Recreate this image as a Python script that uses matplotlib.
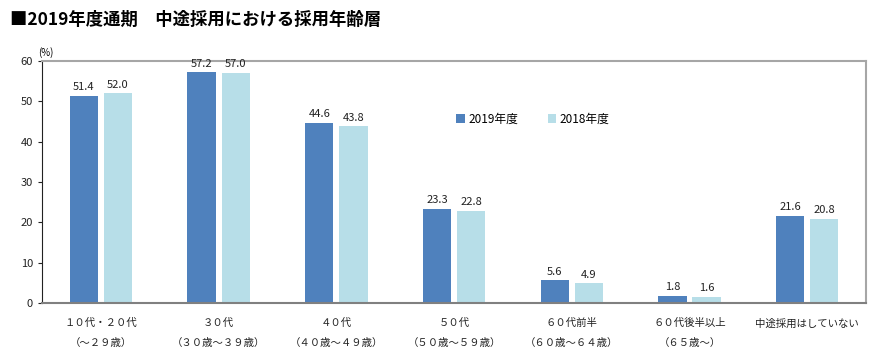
import numpy as np
import matplotlib
matplotlib.use("Agg")
import matplotlib.pyplot as plt

plt.rcParams['font.family'] = ['Noto Sans CJK JP', 'DejaVu Sans']

# Data
categories = ["１０代・２０代\n（～２９歳）", "３０代\n（３０歳～３９歳）", "４０代\n（４０歳～４９歳）",
              "５０代\n（５０歳～５９歳）", "６０代前半\n（６０歳～６４歳）", "６０代後半以上\n（６５歳～）",
              "中途採用はしていない"]
values_2019 = [51.4, 57.2, 44.6, 23.3, 5.6, 1.8, 21.6]
values_2018 = [52.0, 57.0, 43.8, 22.8, 4.9, 1.6, 20.8]
series_names = ["2019年度", "2018年度"]

c2019 = "#4F81BD"
c2018 = "#B7DEE8"

fig = plt.figure(figsize=(8.77, 3.56), dpi=100)
ax = fig.add_axes([0.048, 0.149, 0.9395, 0.68])

x = np.arange(len(categories))
w = 0.24
b1 = ax.bar(x - 0.145, values_2019, w, color=c2019, label=series_names[0])
b2 = ax.bar(x + 0.145, values_2018, w, color=c2018, label=series_names[1])

for bars in (b1, b2):
    for r in bars:
        ax.text(r.get_x() + r.get_width() / 2, r.get_height() + 0.9, f"{r.get_height():.1f}",
                ha="center", va="bottom", fontsize=8, color="#222222")

ax.set_xlim(-0.5, len(categories) - 0.5)
ax.set_ylim(0, 60)
ax.set_yticks(range(0, 61, 10))
ax.tick_params(axis="y", labelsize=8, length=3, colors="#222222")
ax.set_xticks(x)
ax.set_xticklabels(categories, fontsize=7.5, linespacing=2.2, color="#222222")
ax.tick_params(axis="x", length=0, pad=11)

ax.spines["left"].set_color("#222222")
for s in ("top", "right"):
    ax.spines[s].set_color("#A6A6A6")
    ax.spines[s].set_linewidth(1.5)
ax.spines["bottom"].set_color("#808080")
ax.spines["bottom"].set_linewidth(1.5)

ax.text(0.005, 1.01, "(%)", transform=ax.transAxes, fontsize=7, va="bottom", ha="center")

ax.legend(loc="upper left", bbox_to_anchor=(0.49, 0.83), ncol=2, frameon=False,
          fontsize=8.5, handlelength=0.7, handleheight=0.7, handletextpad=0.3, columnspacing=2.5)

fig.text(0.011, 0.945, "■2019年度通期　中途採用における採用年齢層", fontsize=12.5,
         fontweight="bold", va="center", ha="left")

fig.savefig("out.png", dpi=100)
